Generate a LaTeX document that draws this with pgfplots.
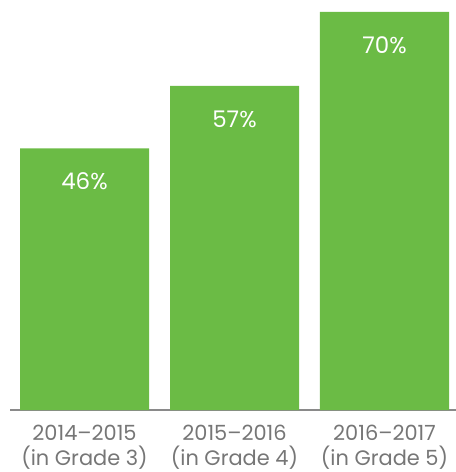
\documentclass[border=0pt]{standalone}
\usepackage{pgfplots}
\pgfplotsset{compat=1.18}
\usepackage{fontspec}
\setmainfont{Poppins}
\definecolor{barg}{HTML}{6BBB45}
\definecolor{txtg}{HTML}{767676}
\definecolor{axg}{HTML}{8A8A8A}
\begin{document}
\begin{tikzpicture}
\begin{axis}[
  scale only axis,
  width=446bp, height=410bp,
  xmin=-0.4967, xmax=2.4767,
  ymin=0, ymax=72.1,
  axis x line=bottom,
  axis y line=none,
  axis line style={axg, line width=1.5bp, -},
  x axis line style={-},
  xtick={0,1,2},
  xticklabels={{2014--2015\\(in Grade 3)},{2015--2016\\(in Grade 4)},{2016--2017\\(in Grade 5)}},
  xticklabel style={align=center, text=txtg, font=\fontsize{21}{25}\selectfont, yshift=-12bp},
  major tick length=0pt,
  ytick=\empty,
  ybar, bar width=129bp,
  /pgf/number format/assume math mode=true,
  nodes near coords={\pgfmathprintnumber{\pgfplotspointmeta}\%},
  every node near coord/.append style={anchor=center, yshift=-33bp, text=white, font=\fontsize{23}{26}\selectfont},
  clip=false,
]
\addplot[fill=barg, draw=none] coordinates {(0,46) (1,57) (2,70)};
\end{axis}
\pgfresetboundingbox
\path (current axis.south west) ++(-10bp,-62bp) coordinate (a);
\path[use as bounding box] (a) rectangle (current axis.north east);
\end{tikzpicture}
\end{document}
